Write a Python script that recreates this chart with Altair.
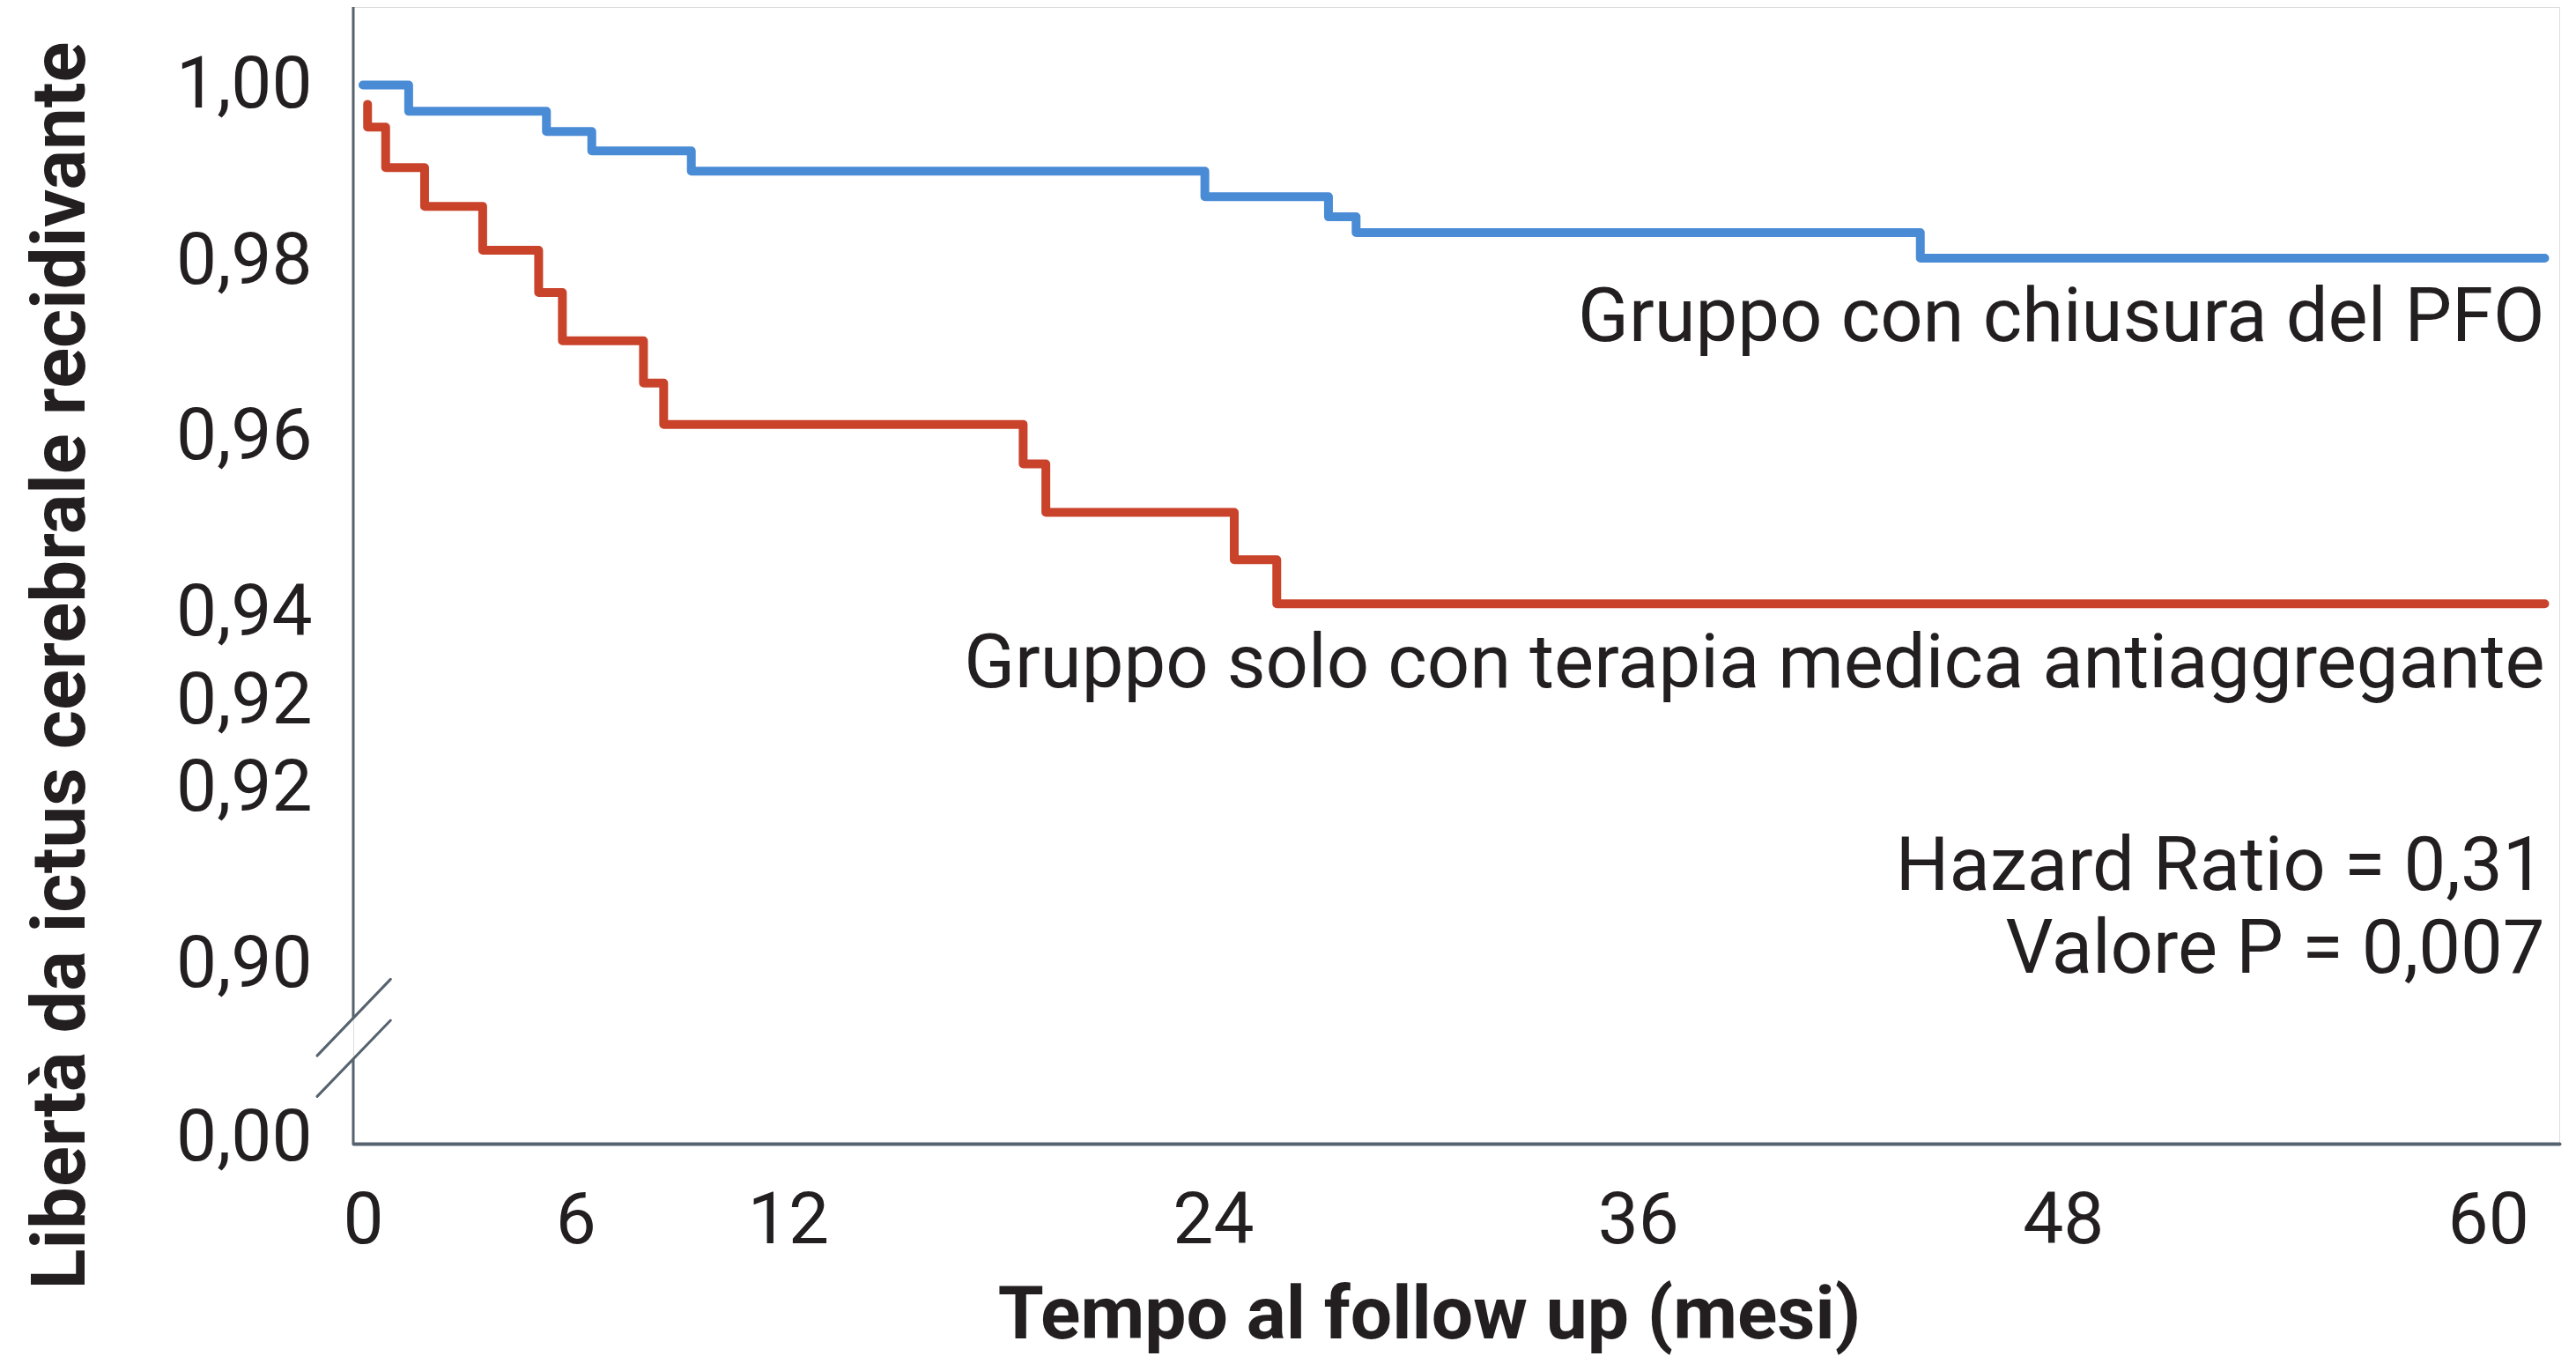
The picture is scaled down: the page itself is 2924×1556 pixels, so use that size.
import altair as alt
import pandas as pd

# ---- data ----
blue_time = [0, 1.29, 5.18, 6.46, 9.27, 23.77, 27.26, 28.04, 43.97, 61.6]
blue_surv = [1.0, 0.9970, 0.9947, 0.9925, 0.9902, 0.9873, 0.9850, 0.9832, 0.9803, 0.9803]

red_time = [0.13, 0.13, 0.64, 1.74, 3.38, 4.96, 5.63, 7.92, 8.49, 18.64, 19.28, 24.6, 25.8, 61.6]
red_surv = [0.9978, 0.9952, 0.9906, 0.9862, 0.9812, 0.9764, 0.9709, 0.9661, 0.9614,
            0.9569, 0.9514, 0.9460, 0.9410, 0.9410]

group_names = ["Gruppo con chiusura del PFO", "Gruppo solo con terapia medica antiaggregante"]
group_colors = ["#4a8bd6", "#c9432b"]

x_ticks = [0, 6, 12, 24, 36, 48, 60]
y_tick_values = [1.00, 0.98, 0.96, 0.94, 0.93, 0.92, 0.90, 0.8803]
y_tick_labels = ["1,00", "0,98", "0,96", "0,94", "0,92", "0,92", "0,90", "0,00"]

ann_text = ["Gruppo con chiusura del PFO", "Gruppo solo con terapia medica antiaggregante",
            "Hazard Ratio = 0,31", "Valore P = 0,007"]
ann_t = [61.6, 61.6, 61.6, 61.6]
ann_s = [0.9709, 0.9315, 0.9085, 0.8990]

# broken y axis (segments of the axis line and the two break slashes)
axis_seg_s = [1.00886, 0.88918]
axis_seg_s2 = [0.89389, 0.8796]
break_t = [-1.294, -1.294]
break_t2 = [0.779, 0.779]
break_s = [0.88961, 0.88497]
break_s2 = [0.8983, 0.89362]

X_DOMAIN = [-0.274, 62.01]
Y_DOMAIN = [0.8796, 1.00886]

AXIS_COLOR = "#56636f"
TEXT_COLOR = "#231f20"
FONT = "Roboto"

# ---- tables ----
rows = []
for i, (t, s) in enumerate(zip(blue_time, blue_surv)):
    rows.append({"t": t, "s": s, "group": group_names[0], "idx": i})
for i, (t, s) in enumerate(zip(red_time, red_surv)):
    rows.append({"t": t, "s": s, "group": group_names[1], "idx": i})
curves = pd.DataFrame(rows)

ann = pd.DataFrame({"t": ann_t, "s": ann_s, "label": ann_text})
axis_df = pd.DataFrame({"s": axis_seg_s, "s2": axis_seg_s2})
break_df = pd.DataFrame({"t": break_t, "t2": break_t2, "s": break_s, "s2": break_s2})

xs = alt.Scale(domain=X_DOMAIN, nice=False, zero=False)
ys = alt.Scale(domain=Y_DOMAIN, nice=False, zero=False)

vals_js = "[" + ",".join(repr(v) for v in y_tick_values) + "]"
labs_js = "[" + ",".join("'" + l + "'" for l in y_tick_labels) + "]"
label_expr = f"{labs_js}[indexof({vals_js}, datum.value)]"

lines = alt.Chart(curves).mark_line(
    interpolate="step-after", strokeWidth=10, strokeCap="round", strokeJoin="round"
).encode(
    x=alt.X("t:Q", scale=xs, axis=alt.Axis(
        values=x_ticks, domain=True, domainColor=AXIS_COLOR, domainWidth=4, domainCap="round",
        ticks=False, grid=False, labelFont=FONT, labelFontSize=82, labelColor=TEXT_COLOR,
        labelPadding=47, labelFlush=False, labelOverlap=False,
        title="Tempo al follow up (mesi)", titleFont=FONT, titleFontSize=84,
        titleFontWeight="bold", titleColor=TEXT_COLOR, titleX=1221, titleY=220,
        titleAlign="center", titleBaseline="alphabetic")),
    y=alt.Y("s:Q", scale=ys, axis=alt.Axis(
        values=y_tick_values, labelExpr=label_expr, domain=False, ticks=False, grid=False,
        labelFont=FONT, labelFontSize=82, labelColor=TEXT_COLOR, labelPadding=47,
        labelOverlap=False, labelFlush=False, labelBaseline="middle",
        title="Libertà da ictus cerebrale recidivante", titleFont=FONT, titleFontSize=85,
        titleFontWeight="bold", titleColor=TEXT_COLOR, titleAngle=270, titleX=-306,
        titleY=747, titleAlign="center", titleBaseline="alphabetic")),
    color=alt.Color("group:N", scale=alt.Scale(domain=group_names, range=group_colors), legend=None),
    order=alt.Order("idx:Q"),
    detail="group:N",
)

yaxis = alt.Chart(axis_df).mark_rule(color=AXIS_COLOR, strokeWidth=3).encode(
    x=alt.value(0),
    y=alt.Y("s:Q", scale=ys),
    y2="s2:Q",
)

breaks = alt.Chart(break_df).mark_rule(color=AXIS_COLOR, strokeWidth=3, strokeCap="round").encode(
    x=alt.X("t:Q", scale=xs),
    x2="t2:Q",
    y=alt.Y("s:Q", scale=ys),
    y2="s2:Q",
)

texts = alt.Chart(ann).mark_text(
    align="right", baseline="alphabetic", font=FONT, fontSize=85, color=TEXT_COLOR
).encode(
    x=alt.X("t:Q", scale=xs),
    y=alt.Y("s:Q", scale=ys),
    text="label:N",
)

chart = alt.layer(lines, yaxis, breaks, texts).properties(
    width=2504,
    height=1290,
    padding={"left": 393, "top": 0, "right": 10, "bottom": 250},
    autosize=alt.AutoSizeParams(type="none"),
).configure_view(stroke=None).configure(background="white")

chart.save("out.html", embed_options={"renderer": "svg", "actions": False})
